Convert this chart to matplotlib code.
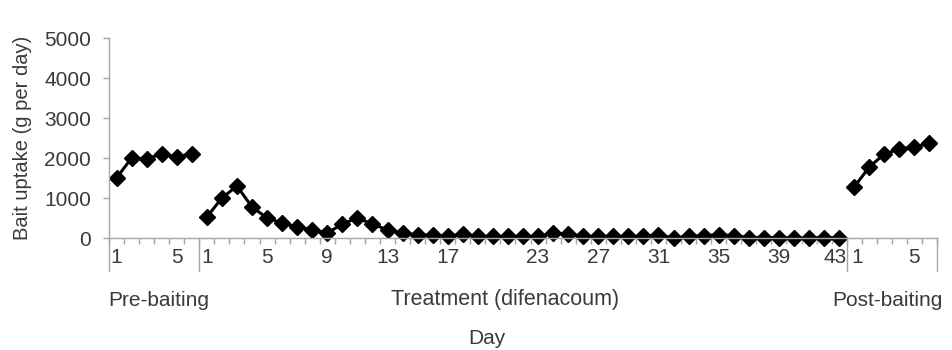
import matplotlib
matplotlib.use("Agg")
import matplotlib.pyplot as plt
import matplotlib.transforms as mtransforms

# valores (g por dia)
pre_cebado = [1500, 2000, 1980, 2100, 2030, 2100]
tratamiento = [525, 1000, 1300, 775, 500, 375, 275, 200, 125, 350,
               500, 350, 200, 125, 75, 75, 40, 100, 40, 40,
               40, 40, 40, 120, 100, 40, 40, 40, 40, 40,
               80, 0, 40, 60, 80, 60, 10, 10, 10, 0,
               0, 10, 0]
post_cebado = [1275, 1775, 2100, 2225, 2275, 2375]

dias_pre = ["1", "5"]
dias_trat = ["1", "5", "9", "13", "17", "23", "27", "31", "35", "39", "43"]
dias_post = ["1", "5"]

grupos = ["Pre-baiting", "Treatment (difenacoum)", "Post-baiting"]

GRIS = "#a6a6a6"
TEXTO = "#3a3a3a"

plt.rcParams['font.family'] = ['Liberation Sans', 'DejaVu Sans']

fig = plt.figure(figsize=(9.53, 3.5), dpi=100)
ax = fig.add_axes([109 / 953, 1 - 238 / 350, 828 / 953, 200 / 350])

n_pre, n_trat, n_post = len(pre_cebado), len(tratamiento), len(post_cebado)
x_pre = list(range(n_pre))
x_trat = list(range(n_pre, n_pre + n_trat))
x_post = list(range(n_pre + n_trat, n_pre + n_trat + n_post))

estilo = dict(color="black", marker="D", markersize=7.8, linewidth=2.2, clip_on=False)
ax.plot(x_pre, pre_cebado, **estilo)
ax.plot(x_trat, tratamiento, **estilo)
ax.plot(x_post, post_cebado, **estilo)

total = n_pre + n_trat + n_post
ax.set_xlim(-0.5, total - 0.5)
ax.set_ylim(0, 5000)
ax.set_yticks(range(0, 5001, 1000))

# etiquetas del eje x (dia dentro de cada fase)
pos = []
etiquetas = []
for base, dias in [(0, dias_pre), (n_pre, dias_trat), (n_pre + n_trat, dias_post)]:
    for d in dias:
        pos.append(base + int(d) - 1)
        etiquetas.append(d)

# "43" y el "1" de post-cebado quedan pegados: se dibujan aparte con un pequeño desplazamiento
i43 = len(dias_pre) + len(dias_trat) - 1
i1 = i43 + 1
desplaz = {i43: -4, i1: 3}
etiq_eje = [("" if i in desplaz else e) for i, e in enumerate(etiquetas)]

ax.set_xticks(pos)
ax.set_xticklabels(etiq_eje)
ax.set_xticks([i - 0.5 for i in range(total + 1)], minor=True)

ax.tick_params(axis="x", which="major", length=0, pad=7, labelsize=15, colors=TEXTO)
ax.tick_params(axis="x", which="minor", length=4, width=1, color=GRIS, direction="out")
ax.tick_params(axis="y", length=4, width=1, color=GRIS, pad=9, labelsize=15, labelcolor=TEXTO)

trans = ax.get_xaxis_transform()
for i, dx in desplaz.items():
    t = mtransforms.offset_copy(trans, fig=fig, x=dx, y=-7 * 100 / 72, units="dots")
    ax.text(pos[i], 0, etiquetas[i], transform=t, ha="center", va="top",
            fontsize=15, color=TEXTO)

for lado in ["top", "right"]:
    ax.spines[lado].set_visible(False)
for lado in ["left", "bottom"]:
    ax.spines[lado].set_color(GRIS)
    ax.spines[lado].set_linewidth(1)

# separadores entre fases
for xs in [-0.5, n_pre - 0.5, n_pre + n_trat - 0.5, total - 0.5]:
    ax.plot([xs, xs], [0, -0.165], transform=trans, color=GRIS, linewidth=1, clip_on=False)

ax.set_ylabel("Bait uptake (g per day)", fontsize=14.5, color=TEXTO, labelpad=9)

fig.text(108 / 953, 1 - 300 / 350, grupos[0], ha="left", va="center", fontsize=15, color=TEXTO)
fig.text(505 / 953, 1 - 300 / 350, grupos[1], ha="center", va="center", fontsize=15.5, color=TEXTO)
fig.text(943 / 953, 1 - 300 / 350, grupos[2], ha="right", va="center", fontsize=15, color=TEXTO)
fig.text(487 / 953, 1 - 338 / 350, "Day", ha="center", va="center", fontsize=15, color=TEXTO)

fig.savefig("out.png", dpi=100)
